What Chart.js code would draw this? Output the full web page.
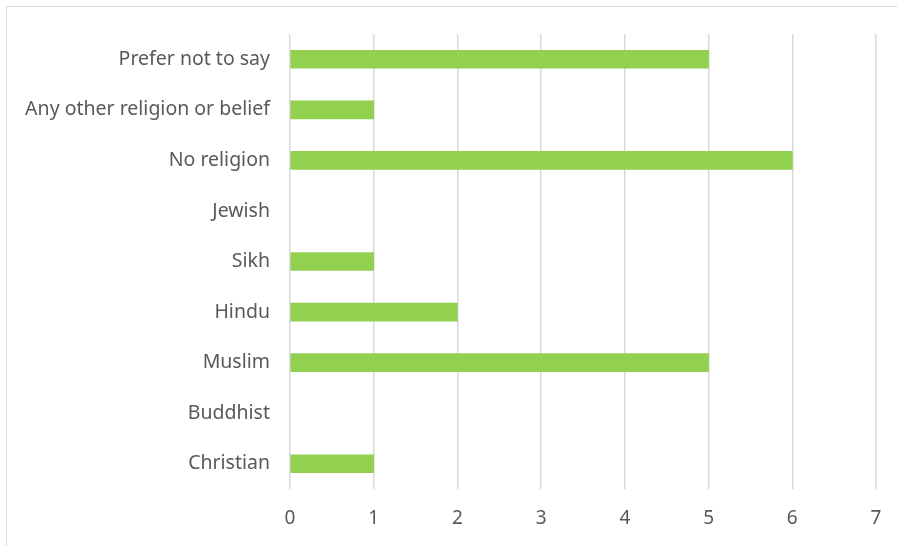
<!DOCTYPE html>
<html>
<head>
<meta charset="utf-8">
<script src="https://cdn.jsdelivr.net/npm/chart.js@4/dist/chart.umd.min.js"></script>
<style>
  html, body { margin: 0; padding: 0; background: #fff; }
  #wrap { position: relative; width: 897px; height: 546px; overflow: hidden; }
  #frame {
    position: absolute; left: 6px; top: 6px; width: 1000px; height: 1000px;
    border-left: 1.5px solid #d9d9d9; border-top: 1.5px solid #d9d9d9;
    pointer-events: none;
  }
  canvas { position: absolute; left: 0; top: 0; }
</style>
</head>
<body>
<div id="wrap">
  <canvas id="myChart" width="897" height="546"></canvas>
  <div id="frame"></div>
</div>
<script>
// religion categories, top row first
const religions = [
    'Prefer not to say',
    'Any other religion or belief',
    'No religion',
    'Jewish',
    'Sikh',
    'Hindu',
    'Muslim',
    'Buddhist',
    'Christian'
];
const counts = [5, 1, 6, 0, 1, 2, 5, 0, 1];
const xTicks = [0, 1, 2, 3, 4, 5, 6, 7];

const fontFamily = '"Noto Sans", "Open Sans", sans-serif';
const textColor = '#595959';

const ctx = document.getElementById('myChart').getContext('2d');
const myChart = new Chart(ctx, {
    type: 'bar',
    data: {
        labels: religions,
        datasets: [{
            data: counts,
            // zero counts get no visible sliver on the axis
            backgroundColor: (c) => (c.raw === 0 ? 'rgba(0,0,0,0)' : '#92d050'),
            borderWidth: 0,
            barThickness: 18
        }]
    },
    options: {
        indexAxis: 'y',
        responsive: false,
        animation: false,
        layout: { padding: { left: 0, right: 21, top: 34, bottom: 0 } },
        plugins: { legend: { display: false }, tooltip: { enabled: false } },
        scales: {
            x: {
                min: xTicks[0],
                max: xTicks[xTicks.length - 1],
                afterBuildTicks: (scale) => { scale.ticks = xTicks.map(v => ({ value: v })); },
                afterFit: (scale) => {
                    scale.height = 57;
                    scale.paddingLeft = 0;
                    scale.paddingRight = 0;
                },
                grid: { color: '#d9d9d9', lineWidth: 1.5, drawTicks: false },
                border: { display: false },
                ticks: { color: textColor, padding: 18, font: { family: fontFamily, size: 19 } }
            },
            y: {
                afterFit: (scale) => { scale.width = 290; },
                grid: { display: false, drawTicks: false },
                border: { display: false },
                ticks: { color: textColor, padding: 20, font: { family: fontFamily, size: 19.5 } }
            }
        }
    }
});
</script>
</body>
</html>
